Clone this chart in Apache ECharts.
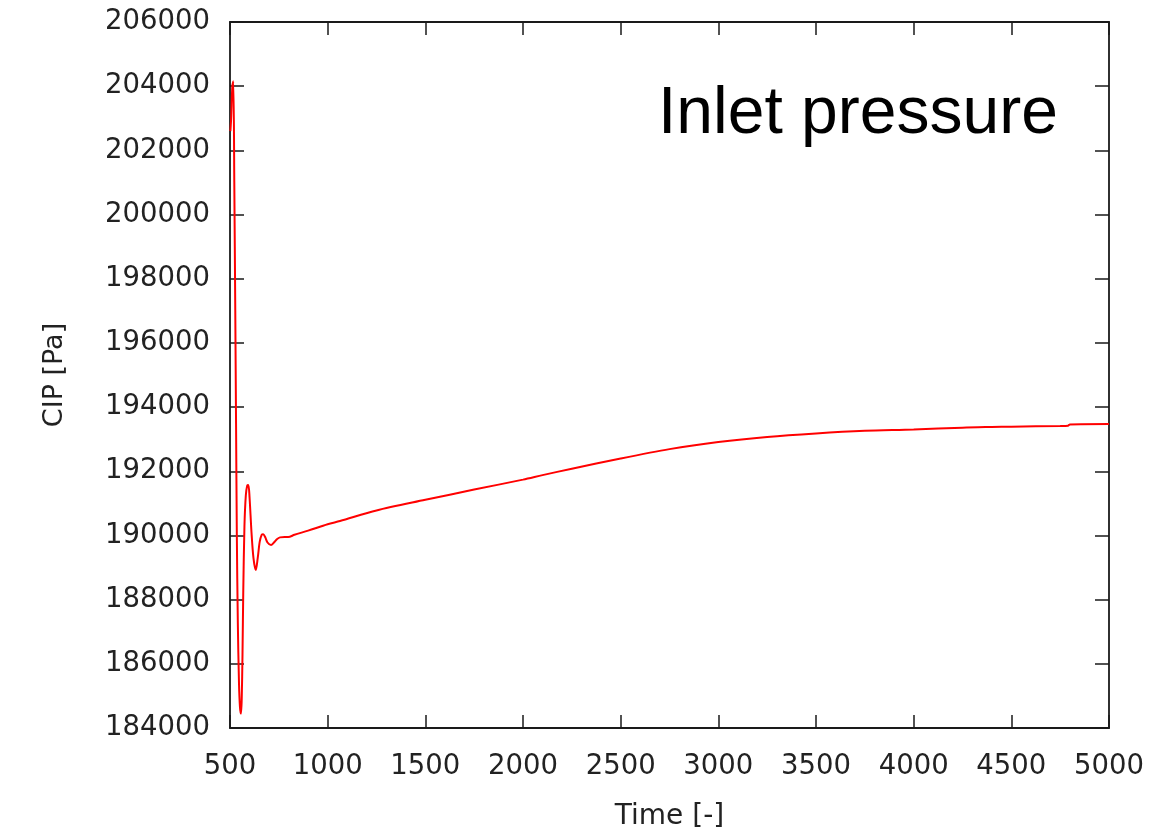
<!DOCTYPE html>
<html>
<head>
<meta charset="utf-8">
<script src="https://cdn.jsdelivr.net/npm/echarts@6/dist/echarts.min.js"></script>
<style>
  html, body { margin: 0; padding: 0; background: #fff; }
  #main { width: 1173px; height: 831px; }
</style>
</head>
<body>
<div id="main"></div>
<script>
// time step values (x)
var timeSteps = [
    502, 506, 512, 517, 522, 527, 531, 535, 540, 546, 551, 556, 560, 564, 568,
    574, 581, 588, 594, 600, 610, 620, 632, 642, 652, 662, 670, 680, 692, 710,
    725, 740, 756, 780, 798, 830, 900, 1000, 1063, 1250, 1500, 1750, 2000, 2100,
    2250, 2500, 2750, 3000, 3250, 3500, 3750, 4000, 4250, 4400, 4500, 4750, 4790,
    4800, 5000
];
// inlet pressure CIP [Pa]
var cipValues = [
    202600, 203000, 204000, 204150, 201000, 197000, 193500, 190000, 187300, 185400, 184650, 184450, 184900, 186300, 188300,
    190300, 191250, 191550, 191570, 191200, 190100, 189300, 188920, 189300, 189800, 190020, 190040, 189950, 189780, 189700,
    189780, 189880, 189940, 189950, 189950, 190020, 190150, 190350, 190450, 190780, 191110, 191430, 191740, 191880,
    192080, 192400, 192690, 192910, 193070, 193180, 193260, 193300, 193360, 193380, 193390, 193410, 193420,
    193460, 193470
];
var xTicks = {min: 500, max: 5000, step: 500};
var yTicks = {min: 184000, max: 206000, step: 2000};

var seriesData = timeSteps.map(function (t, i) {
    return [t, cipValues[i]];
});

var myChart = echarts.init(document.getElementById('main'));

var axisColor = '#1a1a1a';
var plain = function (v) { return String(v); };
var tickFont = {fontSize: 27.5, fontFamily: 'DejaVu Sans', color: '#222', formatter: plain};

var option = {
    backgroundColor: '#fff',
    animation: false,
    title: {
        text: 'Inlet pressure',
        left: 653,
        top: 77,
        textStyle: {fontSize: 66, fontFamily: 'Liberation Sans', fontWeight: 'normal', color: '#000'}
    },
    grid: {left: 230, right: 64, top: 22, bottom: 103, outerBoundsMode: 'none', containLabel: false},
    xAxis: [
        {
            type: 'value',
            min: xTicks.min,
            max: xTicks.max,
            interval: xTicks.step,
            name: 'Time [-]',
            nameLocation: 'middle',
            nameGap: 75,
            nameTextStyle: {fontSize: 28, fontFamily: 'DejaVu Sans', color: '#222'},
            axisLine: {show: true, lineStyle: {color: axisColor, width: 1.8}},
            axisTick: {show: true, inside: true, length: 13, lineStyle: {color: axisColor, width: 1.5}},
            axisLabel: Object.assign({margin: 25}, tickFont),
            splitLine: {show: false}
        },
        {
            type: 'value',
            position: 'top',
            min: xTicks.min,
            max: xTicks.max,
            interval: xTicks.step,
            axisLine: {show: true, lineStyle: {color: axisColor, width: 1.8}},
            axisTick: {show: true, inside: true, length: 13, lineStyle: {color: axisColor, width: 1.5}},
            axisLabel: {show: false},
            splitLine: {show: false}
        }
    ],
    yAxis: [
        {
            type: 'value',
            min: yTicks.min,
            max: yTicks.max,
            interval: yTicks.step,
            name: 'CIP [Pa]',
            nameLocation: 'middle',
            nameGap: 162,
            nameTextStyle: {fontSize: 27, fontFamily: 'DejaVu Sans', color: '#222'},
            axisLine: {show: true, lineStyle: {color: axisColor, width: 1.8}},
            axisTick: {show: true, inside: true, length: 14, lineStyle: {color: axisColor, width: 1.5}},
            axisLabel: Object.assign({margin: 20}, tickFont),
            splitLine: {show: false}
        },
        {
            type: 'value',
            position: 'right',
            min: yTicks.min,
            max: yTicks.max,
            interval: yTicks.step,
            axisLine: {show: true, lineStyle: {color: axisColor, width: 1.8}},
            axisTick: {show: true, inside: true, length: 14, lineStyle: {color: axisColor, width: 1.5}},
            axisLabel: {show: false},
            splitLine: {show: false}
        }
    ],
    series: [
        {
            name: 'CIP',
            type: 'line',
            xAxisIndex: 0,
            yAxisIndex: 0,
            data: seriesData,
            showSymbol: false,
            smooth: 0.3,
            lineStyle: {color: '#ff0000', width: 2}
        }
    ]
};

myChart.setOption(option);
</script>
</body>
</html>
